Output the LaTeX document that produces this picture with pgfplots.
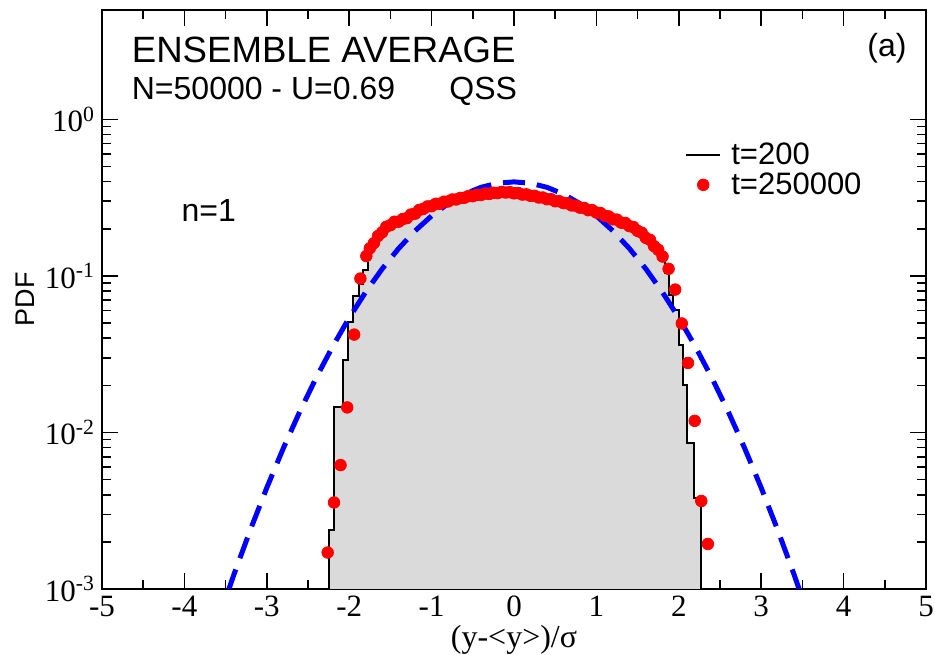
\documentclass[border=0pt]{standalone}
\usepackage{pgfplots}
\pgfplotsset{compat=1.18}
\usepackage{fontspec}
\setmainfont{Liberation Serif}
\setsansfont{Liberation Sans}

\definecolor{histgray}{RGB}{218,218,218}

\begin{document}
\begin{tikzpicture}
\begin{axis}[
    scale only axis,
    width=412pt, height=289.5pt,
    ymode=log,
    xmin=-5, xmax=5,
    ymin=1e-3, ymax=5,
    xtick={-5,...,5},
    xticklabels={-5,-4,-3,-2,-1,0,1,2,3,4,5},
    minor x tick num=1,
    ytick={1e-3,1e-2,1e-1,1},
    yticklabels={10\textsuperscript{-3},10\textsuperscript{-2},10\textsuperscript{-1},10\textsuperscript{0}},
    tick align=inside,
    xtick pos=both, ytick pos=both,
    major tick length=8pt, minor tick length=4.5pt,
    axis line style={line width=1pt},
    every tick/.style={black, line width=0.8pt},
    ticklabel style={font=\fontsize{15.5}{18}\selectfont},
    xlabel={(y-<y>)/σ},
    xlabel style={font=\fontsize{16}{18}\selectfont, at={(axis description cs:0.5,-0.088)}, anchor=center},
    ylabel={PDF},
    ylabel style={font=\fontsize{13.5}{16}\sffamily, at={(axis description cs:-0.093,0.5)}, anchor=center},
    legend style={at={(rel axis cs:0.70,0.785)}, anchor=north west, draw=none, fill=none,
        font=\fontsize{15.5}{17}\sffamily, row sep=-1.5pt,
        nodes={inner xsep=5pt}},
    legend cell align=left,
]

% t=200 histogram
\addplot[const plot, draw=black, line width=1pt, fill=histgray] coordinates {
    (-2.245,0.001) (-2.245,0.00238) (-2.18,0.0145) (-2.07,0.0289) (-2.02,0.0508)
    (-1.95,0.0741) (-1.88,0.0893) (-1.83,0.1086) (-1.77,0.140) (-1.72,0.160)
    (-1.66,0.185) (-1.60,0.200) (-1.53,0.212) (-1.46,0.222) (-1.40,0.226)
    (-1.30,0.238) (-1.20,0.250) (-1.10,0.263) (-1.00,0.275) (-0.90,0.285)
    (-0.80,0.294) (-0.70,0.302) (-0.60,0.309) (-0.50,0.316) (-0.40,0.322)
    (-0.30,0.326) (-0.20,0.330) (-0.10,0.331) (0.00,0.329) (0.10,0.325)
    (0.20,0.319) (0.30,0.311) (0.40,0.304) (0.50,0.296) (0.60,0.288)
    (0.70,0.278) (0.80,0.270) (0.90,0.260) (1.00,0.250) (1.10,0.238)
    (1.20,0.226) (1.30,0.215) (1.40,0.203) (1.50,0.189) (1.60,0.172)
    (1.70,0.150) (1.78,0.125) (1.83,0.104) (1.883,0.0752) (1.931,0.0603)
    (2.004,0.0360) (2.045,0.0200) (2.105,0.00851) (2.184,0.00379)
    (2.27,0.00379) (2.27,0.001)
};
\addlegendentry{t=200}

% t=250000
\addplot[only marks, mark=*, mark size=2.9pt, color=red] coordinates {
    (-2.261,0.00171) (-2.184,0.00357) (-2.105,0.00619) (-2.024,0.01445)
    (-1.940,0.0422) (-1.864,0.0962) (-1.792,0.134) (-1.75,0.150)
    (-1.70,0.162) (-1.65,0.180) (-1.60,0.190) (-1.55,0.206) (-1.50,0.211)
    (-1.45,0.222) (-1.40,0.222) (-1.35,0.231) (-1.30,0.234) (-1.25,0.247)
    (-1.20,0.250) (-1.15,0.264) (-1.10,0.268) (-1.05,0.278) (-1.00,0.279)
    (-0.95,0.289) (-0.90,0.289) (-0.85,0.298) (-0.80,0.299) (-0.75,0.308)
    (-0.70,0.308) (-0.65,0.315) (-0.60,0.316) (-0.55,0.324) (-0.50,0.323)
    (-0.45,0.330) (-0.40,0.329) (-0.35,0.336) (-0.30,0.334) (-0.25,0.340)
    (-0.20,0.338) (-0.15,0.344) (-0.10,0.341) (-0.05,0.343) (0.00,0.337)
    (0.05,0.339) (0.10,0.331) (0.15,0.332) (0.20,0.325) (0.25,0.325)
    (0.30,0.317) (0.35,0.317) (0.40,0.309) (0.45,0.309) (0.50,0.300)
    (0.55,0.300) (0.60,0.292) (0.65,0.291) (0.70,0.282) (0.75,0.281)
    (0.80,0.273) (0.85,0.272) (0.90,0.263) (0.95,0.263) (1.00,0.254)
    (1.05,0.252) (1.10,0.242) (1.15,0.240) (1.20,0.230) (1.25,0.229)
    (1.30,0.219) (1.35,0.218) (1.40,0.208) (1.45,0.205) (1.50,0.194)
    (1.55,0.189) (1.60,0.175) (1.65,0.170) (1.70,0.155) (1.75,0.147)
    (1.803,0.133) (1.876,0.111) (1.956,0.0818) (2.036,0.0497)
    (2.112,0.0278) (2.193,0.01186) (2.273,0.00365) (2.353,0.00194)
};
\addlegendentry{t=250000}

% gaussian
\addplot[forget plot, color=blue, line width=2.5pt, dash pattern=on 11pt off 6pt] coordinates {
    (-3.6,0.000612) (-3.4,0.001232) (-3.2,0.002384) (-3.0,0.004432)
    (-2.8,0.007915) (-2.6,0.01358) (-2.4,0.02239) (-2.2,0.03547)
    (-2.0,0.05399) (-1.8,0.07895) (-1.6,0.11092) (-1.4,0.14973)
    (-1.2,0.19419) (-1.0,0.24197) (-0.8,0.28969) (-0.6,0.33322)
    (-0.4,0.36827) (-0.2,0.39104) (0.0,0.39894) (0.2,0.39104)
    (0.4,0.36827) (0.6,0.33322) (0.8,0.28969) (1.0,0.24197)
    (1.2,0.19419) (1.4,0.14973) (1.6,0.11092) (1.8,0.07895)
    (2.0,0.05399) (2.2,0.03547) (2.4,0.02239) (2.6,0.01358)
    (2.8,0.007915) (3.0,0.004432) (3.2,0.002384) (3.4,0.001232)
    (3.6,0.000612)
};

\node[anchor=base west, font=\fontsize{18.3}{20}\sffamily] at (rel axis cs:0.0277,0.910) {ENSEMBLE AVERAGE};
\node[anchor=base west, font=\fontsize{16}{18}\sffamily] at (rel axis cs:0.0277,0.8446) {N=50000 - U=0.69};
\node[anchor=base west, font=\fontsize{16}{18}\sffamily] at (rel axis cs:0.413,0.8446) {QSS};
\node[anchor=base east, font=\fontsize{16}{18}\sffamily] at (rel axis cs:0.985,0.919) {(a)};
\node[anchor=base west, font=\fontsize{16}{18}\sffamily] at (rel axis cs:0.088,0.634) {n=1};
\end{axis}
\pgfresetboundingbox
\path ([shift={(-51pt,-33pt)}]current axis.south west) rectangle ([shift={(4.5pt,5pt)}]current axis.north east);
\end{tikzpicture}
\end{document}
